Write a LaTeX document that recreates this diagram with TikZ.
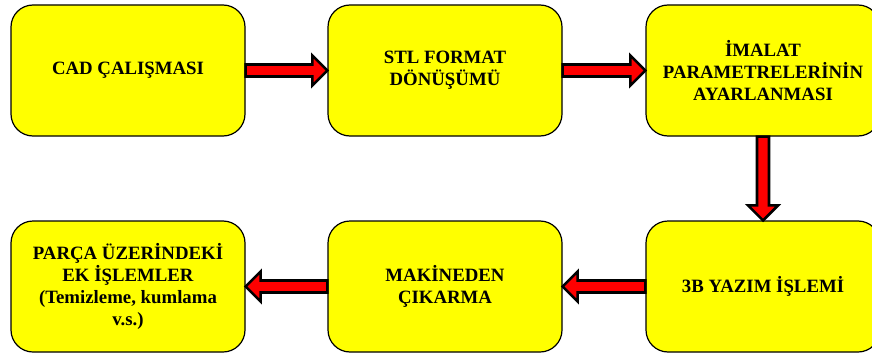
\documentclass[tikz,border=0pt]{standalone}
\usepackage{fontspec}
\setmainfont{Liberation Serif}
\usetikzlibrary{calc}

\definecolor{boxyellow}{RGB}{255,255,0}
\definecolor{arrowred}{RGB}{255,0,0}

\tikzset{
  stepbox/.style={rectangle, rounded corners=22pt, draw=black, line width=1.2pt,
    fill=boxyellow, minimum width=234pt, minimum height=131pt, align=center,
    inner sep=0pt, font=\fontsize{18.8}{22}\selectfont\bfseries},
  blockarrow/.style={fill=arrowred, draw=black, line width=2.6pt, line join=miter}
}

% Thick block arrow from point #1 to tip #2
\newcommand{\flowarrow}[2]{%
  \coordinate (fa-s) at (#1);
  \coordinate (fa-e) at (#2);
  \coordinate (fa-h) at ($(fa-e)!15pt!(fa-s)$);
  \draw[blockarrow]
    ($(fa-s)!6pt!90:(fa-e)$) -- ($(fa-h)!6pt!90:(fa-e)$) --
    ($(fa-h)!15pt!90:(fa-e)$) -- (fa-e) --
    ($(fa-h)!15pt!-90:(fa-e)$) -- ($(fa-h)!6pt!-90:(fa-e)$) --
    ($(fa-s)!6pt!-90:(fa-e)$) -- cycle;
}

\begin{document}
\begin{tikzpicture}[x=1pt, y=-1pt]
  \useasboundingbox (0,0) rectangle (872,353);
  \begin{scope}
    \clip (0,0) rectangle (872,353);

    % process steps
    \node[stepbox] (b1) at (128,70.5) {CAD ÇALIŞMASI};
    \node[stepbox] (b2) at (445,70.5) {STL FORMAT\\DÖNÜŞÜMÜ};
    \node[stepbox] (b3) at (763,70.5) {İMALAT\\PARAMETRELERİNİN\\AYARLANMASI};
    \node[stepbox] (b6) at (763,286.5) {3B YAZIM İŞLEMİ};
    \node[stepbox] (b5) at (445,286.5) {MAKİNEDEN\\ÇIKARMA};
    \node[stepbox] (b4) at (128,286.5) {PARÇA ÜZERİNDEKİ\\EK İŞLEMLER\\(Temizleme, kumlama\\v.s.)};

    % flow between steps
    \flowarrow{b1.east}{b2.west}
    \flowarrow{b2.east}{b3.west}
    \flowarrow{b3.south}{b6.north}
    \flowarrow{b6.west}{b5.east}
    \flowarrow{b5.west}{b4.east}
  \end{scope}
\end{tikzpicture}
\end{document}
